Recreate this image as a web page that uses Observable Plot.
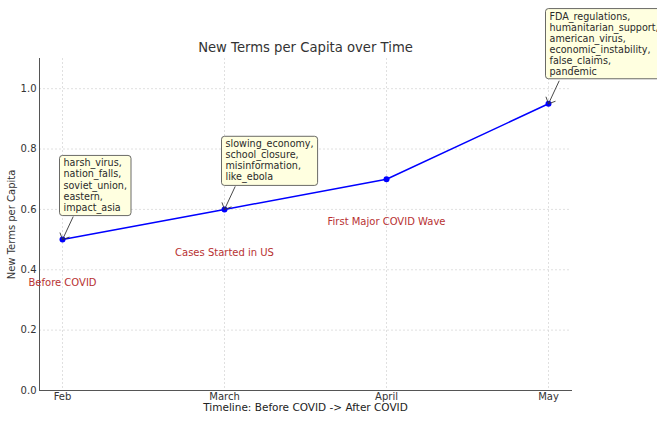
<!DOCTYPE html>
<html>
<head>
<meta charset="utf-8">
<script src="https://cdn.jsdelivr.net/npm/d3@7"></script>
<script src="https://cdn.jsdelivr.net/npm/@observablehq/plot@0.6"></script>
<style>
  html, body { margin: 0; padding: 0; background: #fff; }
  #chart svg { display: block; }
</style>
</head>
<body>
<div id="chart"></div>
<script>
// ---- data ----
const months = ["Feb", "March", "April", "May"];
const termsPerCapita = [0.5, 0.6, 0.7, 0.95];
const phaseLabels = ["Before COVID", "Cases Started in US", "First Major COVID Wave", ""];
const newTerms = [
  ["harsh_virus", "nation_falls", "soviet_union", "eastern", "impact_asia"],
  ["slowing_economy", "school_closure", "misinformation", "like_ebola"],
  [],
  ["FDA_regulations", "humanitarian_support", "american_virus", "economic_instability", "false_claims", "pandemic"]
];
const yTicks = [0, 0.2, 0.4, 0.6, 0.8, 1.0];
const titleText = "New Terms per Capita over Time";
const xLabel = "Timeline: Before COVID -> After COVID";
const yLabel = "New Terms per Capita";

const rows = months.map((m, i) => ({
  month: m,
  value: termsPerCapita[i],
  phase: phaseLabels[i],
  terms: newTerms[i]
}));
const annotated = rows.filter(d => d.terms.length > 0);

const FONT = "DejaVu Sans";

const chart = Plot.plot({
  width: 657,
  height: 422,
  marginLeft: 39,
  marginRight: 86,
  marginTop: 58,
  marginBottom: 32,
  style: { fontFamily: FONT, background: "#fff", overflow: "visible" },
  x: { type: "point", domain: months, padding: 0.14 },
  y: { domain: [0, 1.1] },
  marks: [
    Plot.gridX(months, { stroke: "#d8d8d8", strokeOpacity: 1, strokeDasharray: "2,2", strokeWidth: 0.8 }),
    Plot.gridY(yTicks, { stroke: "#d8d8d8", strokeOpacity: 1, strokeDasharray: "2,2", strokeWidth: 0.8 }),
    Plot.axisX({ tickSize: 0, tickPadding: 2, fontSize: 10, label: null, color: "#333" }),
    Plot.axisY({
      ticks: yTicks, tickSize: 0, tickPadding: 3, tickFormat: ".1f", fontSize: 10, color: "#333",
      label: yLabel, labelAnchor: "center", labelArrow: "none", labelOffset: 32
    }),
    Plot.frame({ anchor: "left", stroke: "#555" }),
    Plot.frame({ anchor: "bottom", stroke: "#555" }),
    Plot.line(rows, { x: "month", y: "value", stroke: "#0000ff", strokeWidth: 1.5 }),
    Plot.dot(rows, { x: "month", y: "value", fill: "#0000ff", r: 3 }),
    Plot.text(rows, { x: "month", y: "value", text: "phase", dy: 43, fill: "#b83232", fontSize: 10 }),
    Plot.vector(annotated, { x: "month", y: "value", anchor: "end", length: 25, rotate: 205, stroke: "#333", strokeWidth: 0.8, r: 3.5 }),
    Plot.text(annotated, {
      x: "month", y: "value",
      text: d => d.terms.join(",\n"),
      textAnchor: "start", lineAnchor: "bottom",
      dx: 1, dy: -29, fontSize: 9.6, lineHeight: 1.15, fill: "#2a2a2a",
      className: "ann"
    }),
    Plot.text([titleText], { frameAnchor: "top", text: d => d, dy: -7, lineAnchor: "bottom", fontSize: 13.2, fill: "#333" }),
    Plot.text([xLabel], { frameAnchor: "bottom", text: d => d, dy: 20, fontSize: 10.5, fill: "#222" })
  ]
});

document.getElementById("chart").append(chart);

// draw the annotation boxes behind the term lists
const NS = "http://www.w3.org/2000/svg";
chart.querySelectorAll(".ann text").forEach(t => {
  const b = t.getBBox();
  const rect = document.createElementNS(NS, "rect");
  rect.setAttribute("x", b.x - 4);
  rect.setAttribute("y", b.y - 2);
  rect.setAttribute("width", b.width + 8);
  rect.setAttribute("height", b.height + 4);
  rect.setAttribute("rx", 3);
  rect.setAttribute("fill", "#ffffe0");
  rect.setAttribute("stroke", "#444");
  rect.setAttribute("stroke-width", 0.8);
  const tr = t.getAttribute("transform");
  if (tr) rect.setAttribute("transform", tr);
  t.parentNode.insertBefore(rect, t);
});
</script>
</body>
</html>
